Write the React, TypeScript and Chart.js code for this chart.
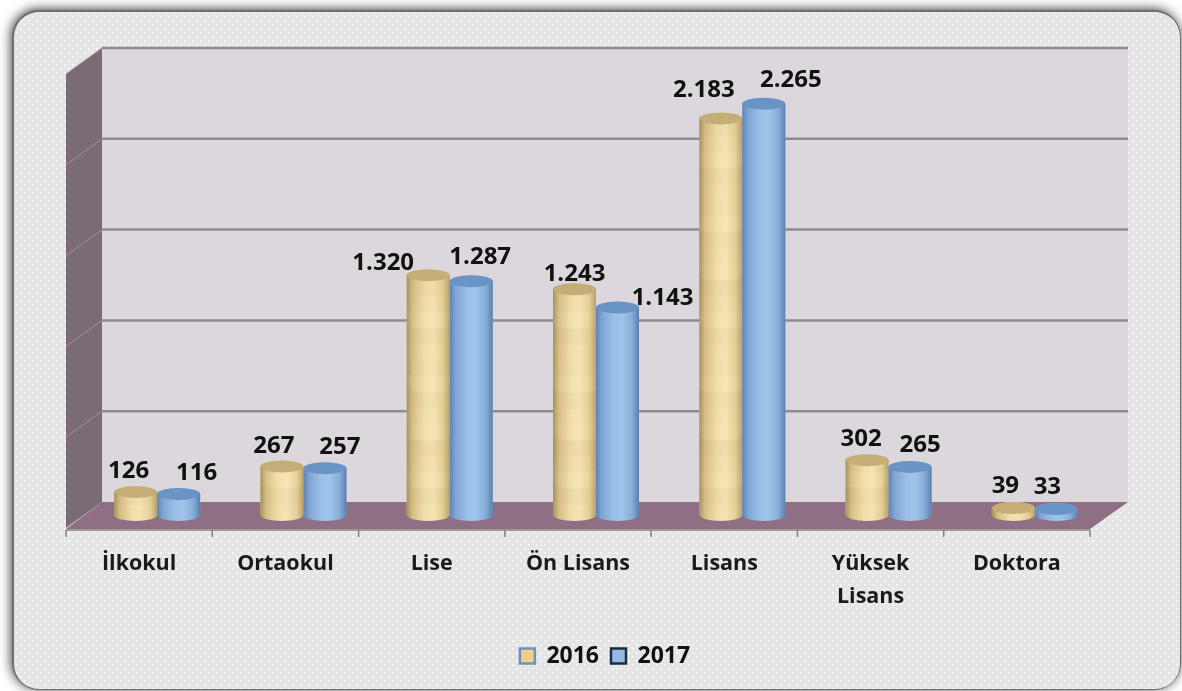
import React, { useEffect, useRef } from "react";
import { Chart, registerables } from "chart.js";

Chart.register(...registerables);

const categories = [
  "İlkokul",
  "Ortaokul",
  "Lise",
  "Ön Lisans",
  "Lisans",
  ["Yüksek", "Lisans"],
  "Doktora",
];
const seriesNames = ["2016", "2017"];
const values2016 = [126, 267, 1320, 1243, 2183, 302, 39];
const values2017 = [116, 257, 1287, 1143, 2265, 265, 33];

// Label placement relative to the top centre of each bar [dx, dy]
const labelNudge2016 = [[-7, -21], [-8, -20], [-45, -12], [0, -15], [-17, -28], [-6, -21], [-8, -22]];
const labelNudge2017 = [[18, -21], [15, -21], [9, -24], [45, -9], [27, -24], [10, -22], [-9, -22]];

// Irregular shading of the stacked "coin" texture on the tan cylinders
const bandShades = [0.015, 0.045, -0.03, 0.025, 0.055, -0.02, 0.01, 0.04, -0.04, 0.02];

const FONT = '"Open Sans", "Noto Sans", sans-serif';
const DEPTH_X = 18;
const DEPTH_Y = 13;
const ELLIPSE_RY = 6;

const formatTr = (v: number) => (v >= 1000 ? `${Math.floor(v / 1000)}.${String(v % 1000).padStart(3, "0")}` : String(v));

const palettes = [
  {
    base: "#e8d296",
    top: "#c4ae76",
    stops: ["#a8935f", "#d8c288", "#f3e0ab", "#f6e5b4", "#e6d199", "#b9a36d"],
    banded: true,
    legendFill: "#f0cf8a",
    legendStroke: "#6d92bd",
  },
  {
    base: "#92b8e2",
    top: "#6a94c6",
    stops: ["#5f84b4", "#7fa6d4", "#9cc1e8", "#9fc4ea", "#86acd9", "#5b80ae"],
    banded: false,
    legendFill: "#95b9e3",
    legendStroke: "#1c2c3e",
  },
];

function roundRect(ctx: CanvasRenderingContext2D, x: number, y: number, w: number, h: number, r: number) {
  ctx.beginPath();
  ctx.roundRect(x, y, w, h, r);
}

function makeDots(ctx: CanvasRenderingContext2D) {
  const c = document.createElement("canvas");
  c.width = 8;
  c.height = 8;
  const g = c.getContext("2d")!;
  g.fillStyle = "#e6e6e6";
  g.fillRect(0, 0, 8, 8);
  g.fillStyle = "#f4f4f4";
  g.fillRect(0, 0, 2, 2);
  g.fillRect(4, 4, 2, 2);
  g.fillStyle = "#dbdbdb";
  g.fillRect(2, 2, 1, 1);
  g.fillRect(6, 6, 1, 1);
  g.fillRect(2, 6, 1, 1);
  g.fillRect(6, 2, 1, 1);
  return ctx.createPattern(c, "repeat")!;
}

const scenePlugin = {
  id: "scene3d",
  afterLayout(chart: any) {
    const lg = chart.legend;
    if (lg) {
      lg.left += 9;
      lg.right += 9;
      lg.top = 655 - lg.height / 2;
      lg.bottom = lg.top + lg.height;
    }
  },
  beforeDraw(chart: any) {
    const { ctx, chartArea: a, scales } = chart;
    const W = chart.width;
    const H = chart.height;
    ctx.save();
    ctx.fillStyle = "#ffffff";
    ctx.fillRect(0, 0, W, H);

    // Rounded frame
    ctx.save();
    ctx.shadowColor = "rgba(40,40,40,0.9)";
    ctx.shadowBlur = 11;
    ctx.shadowOffsetX = -1;
    ctx.shadowOffsetY = -1;
    ctx.fillStyle = "#6f6f6f";
    roundRect(ctx, 12, 10, 1169, 680, 27);
    ctx.fill();
    ctx.restore();
    ctx.fillStyle = makeDots(ctx);
    roundRect(ctx, 14, 12, 1166, 677, 25);
    ctx.fill();

    const y = scales.y;
    const left = a.left;
    const right = a.right;
    const fx0 = left - DEPTH_X;
    const fx1 = right - DEPTH_X;
    const bx0 = left + DEPTH_X;
    const bx1 = right + 20;
    const y0 = y.getPixelForValue(0);
    const yTop = y.getPixelForValue(y.max);

    // Back wall
    ctx.fillStyle = "#dcd7dc";
    ctx.fillRect(bx0, yTop - DEPTH_Y, bx1 - bx0, y0 - yTop);

    // Side wall
    ctx.fillStyle = "#7b6b75";
    ctx.beginPath();
    ctx.moveTo(fx0, yTop + DEPTH_Y);
    ctx.lineTo(bx0, yTop - DEPTH_Y);
    ctx.lineTo(bx0, y0 - DEPTH_Y);
    ctx.lineTo(fx0, y0 + DEPTH_Y);
    ctx.closePath();
    ctx.fill();

    // Floor
    ctx.fillStyle = "#8f6f84";
    ctx.beginPath();
    ctx.moveTo(fx0, y0 + DEPTH_Y + 1);
    ctx.lineTo(bx0, y0 - DEPTH_Y);
    ctx.lineTo(bx1, y0 - DEPTH_Y);
    ctx.lineTo(fx1, y0 + DEPTH_Y + 1);
    ctx.closePath();
    ctx.fill();

    // Grid lines on the walls, from the y scale's ticks
    y.ticks.forEach((t: any) => {
      const py = y.getPixelForValue(t.value);
      if (t.value > 0) {
        ctx.strokeStyle = "#a4929d";
        ctx.lineWidth = 1;
        ctx.beginPath();
        ctx.moveTo(fx0, py + DEPTH_Y);
        ctx.lineTo(bx0, py - DEPTH_Y);
        ctx.stroke();
        ctx.strokeStyle = "#8e8b8f";
        ctx.lineWidth = 2.5;
        ctx.beginPath();
        ctx.moveTo(bx0, py - DEPTH_Y);
        ctx.lineTo(bx1, py - DEPTH_Y);
        ctx.stroke();
      }
    });

    // Front edge of floor and category tick marks
    const x = scales.x;
    const step = x.getPixelForTick(1) - x.getPixelForTick(0);
    ctx.strokeStyle = "#9a9a9a";
    ctx.lineWidth = 2;
    ctx.beginPath();
    ctx.moveTo(fx0, y0 + DEPTH_Y + 2);
    ctx.lineTo(fx1, y0 + DEPTH_Y + 2);
    ctx.stroke();
    ctx.strokeStyle = "#808080";
    ctx.lineWidth = 1.5;
    for (let i = 0; i <= categories.length; i++) {
      const px = x.getPixelForTick(0) - step / 2 - DEPTH_X + i * step;
      ctx.beginPath();
      ctx.moveTo(px, y0 + DEPTH_Y + 2);
      ctx.lineTo(px, y0 + DEPTH_Y + 9);
      ctx.stroke();
    }
    ctx.restore();
  },
  afterDatasetsDraw(chart: any) {
    const { ctx } = chart;
    chart.data.datasets.forEach((ds: any, di: number) => {
      const pal = palettes[di];
      const meta = chart.getDatasetMeta(di);
      meta.data.forEach((bar: any) => {
        const { x, y, base, width } = bar.getProps(["x", "y", "base", "width"], true);
        const rx = width / 2;
        const ry = ELLIPSE_RY;
        const l = x - rx;
        const r = x + rx;
        ctx.save();
        ctx.beginPath();
        ctx.moveTo(l, y);
        ctx.lineTo(l, base);
        ctx.ellipse(x, base, rx, ry, 0, Math.PI, 0, true);
        ctx.lineTo(r, y);
        ctx.ellipse(x, y, rx, ry, 0, 0, Math.PI, true);
        ctx.closePath();
        const g = ctx.createLinearGradient(l, 0, r, 0);
        pal.stops.forEach((c: string, i: number) => {
          const pos = [0, 0.14, 0.42, 0.62, 0.84, 1][i];
          g.addColorStop(pos, c);
        });
        ctx.fillStyle = g;
        ctx.fill();
        if (pal.banded) {
          ctx.clip();
          const bandH = 16;
          let k = 0;
          for (let by = base + ry; by > y - ry; by -= bandH, k++) {
            const s = bandShades[k % bandShades.length];
            ctx.fillStyle = s > 0 ? `rgba(130,100,40,${s})` : `rgba(255,250,225,${-s})`;
            ctx.beginPath();
            ctx.ellipse(x, by - ry, rx + 1, ry, 0, 0, Math.PI);
            ctx.lineTo(l - 1, by - ry - bandH);
            ctx.ellipse(x, by - ry - bandH, rx + 1, ry, 0, Math.PI, 0, true);
            ctx.closePath();
            ctx.fill();
          }
        }
        ctx.restore();
        // Top cap
        ctx.save();
        ctx.fillStyle = pal.top;
        ctx.beginPath();
        ctx.ellipse(x, y, rx - 0.5, ry, 0, 0, Math.PI * 2);
        ctx.fill();
        ctx.restore();
      });
    });

    // Value labels
    ctx.save();
    ctx.font = `bold 24px ${FONT}`;
    ctx.fillStyle = "#111111";
    ctx.textAlign = "center";
    ctx.textBaseline = "middle";
    const nudges = [labelNudge2016, labelNudge2017];
    chart.data.datasets.forEach((ds: any, di: number) => {
      const meta = chart.getDatasetMeta(di);
      meta.data.forEach((bar: any, i: number) => {
        const [dx, dy] = nudges[di][i];
        ctx.fillText(formatTr(ds.data[i]), bar.x + dx, bar.y + dy);
      });
    });
    ctx.restore();
  },
};

export default function App() {
  const ref = useRef<HTMLCanvasElement | null>(null);
  useEffect(() => {
    document.body.style.margin = "0";
    const chart = new Chart(ref.current!, {
      type: "bar",
      data: {
        labels: categories as any,
        datasets: [
          { label: seriesNames[0], data: values2016, backgroundColor: palettes[0].base, borderWidth: 0 },
          { label: seriesNames[1], data: values2017, backgroundColor: palettes[1].base, borderWidth: 0 },
        ],
      },
      options: {
        responsive: false,
        animation: false,
        layout: { padding: { left: 84, right: 74, top: 61, bottom: 0 } },
        datasets: { bar: { categoryPercentage: 0.588, barPercentage: 1 } },
        plugins: {
          tooltip: { enabled: false },
          legend: {
            display: true,
            position: "bottom",
            labels: {
              boxWidth: 15,
              boxHeight: 15,
              padding: 12,
              font: { family: FONT, size: 23, weight: "bold" },
              color: "#111111",
              generateLabels: (c: any) =>
                c.data.datasets.map((d: any, i: number) => ({
                  text: d.label,
                  fillStyle: palettes[i].legendFill,
                  strokeStyle: palettes[i].legendStroke,
                  lineWidth: 2.5,
                  hidden: false,
                  datasetIndex: i,
                  fontColor: "#111111",
                })),
            },
          },
        },
        scales: {
          x: {
            grid: { display: false },
            border: { display: false },
            ticks: {
              autoSkip: false,
              maxRotation: 0,
              minRotation: 0,
              padding: 25,
              labelOffset: -DEPTH_X,
              color: "#1a1a1a",
              font: { family: FONT, size: 21.5, weight: "bold", lineHeight: 1.5 },
            },
            afterFit: (s: any) => {
              s.height = 131;
            },
          },
          y: {
            display: false,
            min: 0,
            max: 2500,
            ticks: { stepSize: 500 },
          },
        },
      } as any,
      plugins: [scenePlugin],
    });
    return () => chart.destroy();
  }, []);
  return <canvas ref={ref} width={1182} height={691} style={{ display: "block", width: 1182, height: 691 }} />;
}
